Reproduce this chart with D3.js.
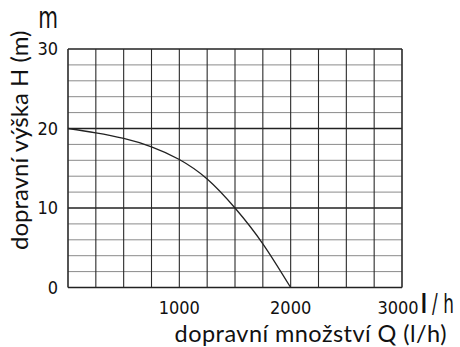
<!DOCTYPE html>
<html>
<head>
<meta charset="utf-8">
<script src="https://cdn.jsdelivr.net/npm/d3@7"></script>
<style>
  body { margin: 0; background: #fff; }
  .tick-label { font-family: 'Liberation Sans Narrow', 'DejaVu Sans Condensed', sans-serif; fill: #111; }
  .axis-title { font-family: Lato, 'Noto Sans', sans-serif; fill: #111; }
</style>
</head>
<body>
<svg id="chart"></svg>
<script>
// flow Q (l/h) vs head H (m)
const flowValues = [0, 250, 500, 750, 1000, 1250, 1500, 1750, 2000];
const headValues = [20, 19.45, 18.75, 17.7, 16.1, 13.65, 10.0, 5.5, 0];

const xTickLabels = [1000, 2000, 3000];
const yTickLabels = [0, 10, 20, 30];
const xGridStep = 250;
const yGridStep = 2;

class PumpCurve {
  constructor(_config, _data) {
    this.config = {
      parentElement: _config.parentElement,
      containerWidth: 460,
      containerHeight: 347,
      margin: { top: 49, right: 58, bottom: 59.5, left: 68 },
    };
    this.data = _data;
    this.initVis();
  }

  initVis() {
    let vis = this;
    vis.width = vis.config.containerWidth - vis.config.margin.left - vis.config.margin.right;
    vis.height = vis.config.containerHeight - vis.config.margin.top - vis.config.margin.bottom;

    vis.xScale = d3.scaleLinear().domain([0, 3000]).range([0, vis.width]);
    vis.yScale = d3.scaleLinear().domain([0, 30]).range([vis.height, 0]);

    vis.svg = d3.select(vis.config.parentElement)
      .attr('width', vis.config.containerWidth)
      .attr('height', vis.config.containerHeight);

    vis.chart = vis.svg.append('g')
      .attr('transform', `translate(${vis.config.margin.left},${vis.config.margin.top})`);

    vis.gridG = vis.chart.append('g').attr('class', 'grid');
    vis.marks = vis.chart.append('g');
    vis.labelsG = vis.svg.append('g');

    vis.renderVis();
  }

  renderVis() {
    let vis = this;

    // horizontal grid, every 2 m; 10 m lines are heavier
    const yGrid = d3.range(0, 30 + yGridStep, yGridStep);
    vis.gridG.selectAll('.h-line')
      .data(yGrid)
      .join('line')
      .attr('class', 'h-line')
      .attr('x1', 0)
      .attr('x2', vis.width)
      .attr('y1', (d) => vis.yScale(d))
      .attr('y2', (d) => vis.yScale(d))
      .attr('stroke', (d) => (d % 10 === 0 ? '#222' : '#8a8a8a'))
      .attr('stroke-width', (d) => (d % 10 === 0 ? 1.6 : 1));

    // vertical grid, every 250 l/h
    const xGrid = d3.range(0, 3000 + xGridStep, xGridStep);
    vis.gridG.selectAll('.v-line')
      .data(xGrid)
      .join('line')
      .attr('class', 'v-line')
      .attr('x1', (d) => vis.xScale(d))
      .attr('x2', (d) => vis.xScale(d))
      .attr('y1', 0)
      .attr('y2', vis.height)
      .attr('stroke', '#2a2a2a')
      .attr('stroke-width', (d) => (d === 0 || d === 3000 ? 1.6 : 1.1));

    vis.marks.selectAll('.pump-line')
      .data([vis.data])
      .join('path')
      .attr('class', 'pump-line')
      .attr('fill', 'none')
      .attr('stroke', '#222')
      .attr('stroke-width', 1.3)
      .attr('d', d3.line()
        .curve(d3.curveNatural)
        .x((d) => vis.xScale(d[0]))
        .y((d) => vis.yScale(d[1])));

    // tick labels
    const left = vis.config.margin.left;
    const top = vis.config.margin.top;
    vis.labelsG.selectAll('.y-tick')
      .data(yTickLabels)
      .join('text')
      .attr('class', 'tick-label y-tick')
      .attr('x', left - 10)
      .attr('y', (d) => top + vis.yScale(d))
      .attr('dy', '0.36em')
      .attr('text-anchor', 'end')
      .attr('font-size', 18)
      .text((d) => d);

    vis.labelsG.selectAll('.x-tick')
      .data(xTickLabels)
      .join('text')
      .attr('class', 'tick-label x-tick')
      .attr('x', (d) => left + vis.xScale(d))
      .attr('dx', (d) => (d === 3000 ? -4 : 0))
      .attr('y', top + vis.height + 26.5)
      .attr('text-anchor', 'middle')
      .attr('font-size', 18)
      .text((d) => d);

    // unit labels
    vis.labelsG.append('text')
      .attr('class', 'tick-label')
      .attr('transform', 'translate(58,28) scale(0.75,1)')
      .attr('text-anchor', 'end')
      .attr('font-size', 30)
      .text('m');

    const unitX = vis.labelsG.append('text')
      .attr('class', 'tick-label')
      .attr('transform', `translate(421,${top + vis.height + 25.5}) scale(0.72,1)`)
      .attr('font-size', 26);
    unitX.append('tspan').attr('font-weight', 'bold').text('l');
    unitX.append('tspan').text(' / h');

    // axis titles
    vis.labelsG.append('text')
      .attr('class', 'axis-title')
      .attr('x', 447)
      .attr('y', 342)
      .attr('text-anchor', 'end')
      .attr('font-size', 23.5)
      .attr('letter-spacing', 0.45)
      .text('dopravní množství Q (l/h)');

    vis.labelsG.append('text')
      .attr('class', 'axis-title')
      .attr('transform', 'translate(28,250) rotate(-90)')
      .attr('font-size', 24)
      .text('dopravní výška H (m)');
  }
}

const pumpData = flowValues.map((q, i) => [q, headValues[i]]);
new PumpCurve({ parentElement: '#chart' }, pumpData);
</script>
</body>
</html>
